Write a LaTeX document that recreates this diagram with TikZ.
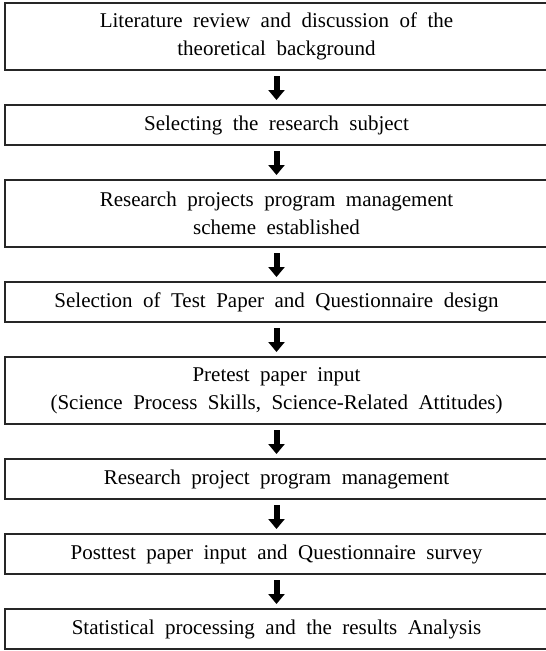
\documentclass[tikz,border=0pt]{standalone}
\usepackage{fontspec}
\setmainfont{Liberation Serif}
\usetikzlibrary{positioning,arrows.meta}
\newcommand\boxfont{\fontsize{21}{28}\selectfont\spaceskip=0.5em plus 0.1em\relax}

\begin{document}
\begin{tikzpicture}[x=1pt,y=-1pt,node distance=35pt,
    stepbox/.style={draw=black!85,line width=1.1pt,minimum width=543pt,inner sep=0pt,outer sep=0pt,
        align=center,font=\boxfont},
    onebox/.style={stepbox,minimum height=40pt},
    twobox/.style={stepbox,minimum height=67pt},
    down/.style={line width=6pt,-{Triangle[width=16pt,length=10pt]},shorten <=6pt,shorten >=5pt}]
    \useasboundingbox (0,0) rectangle (546,651);
    \node[twobox,anchor=north west] (lit) at (5,3)
        {Literature review and discussion of the\\theoretical background};
    \node[onebox,below=of lit] (subj) {Selecting the research subject};
    \node[twobox,below=of subj] (plan)
        {Research projects program management\\scheme established};
    \node[onebox,below=of plan] (test) {Selection of Test Paper and Questionnaire design};
    \node[twobox,below=of test] (pre)
        {Pretest paper input\\(Science Process Skills, Science-Related Attitudes)};
    \node[onebox,below=of pre] (run) {Research project program management};
    \node[onebox,below=of run] (post) {Posttest paper input and Questionnaire survey};
    \node[onebox,below=of post] (stat) {Statistical processing and the results Analysis};
    \draw[down](lit)--(subj);
    \draw[down](subj)--(plan);
    \draw[down](plan)--(test);
    \draw[down](test)--(pre);
    \draw[down](pre)--(run);
    \draw[down](run)--(post);
    \draw[down](post)--(stat);
\end{tikzpicture}
\end{document}
